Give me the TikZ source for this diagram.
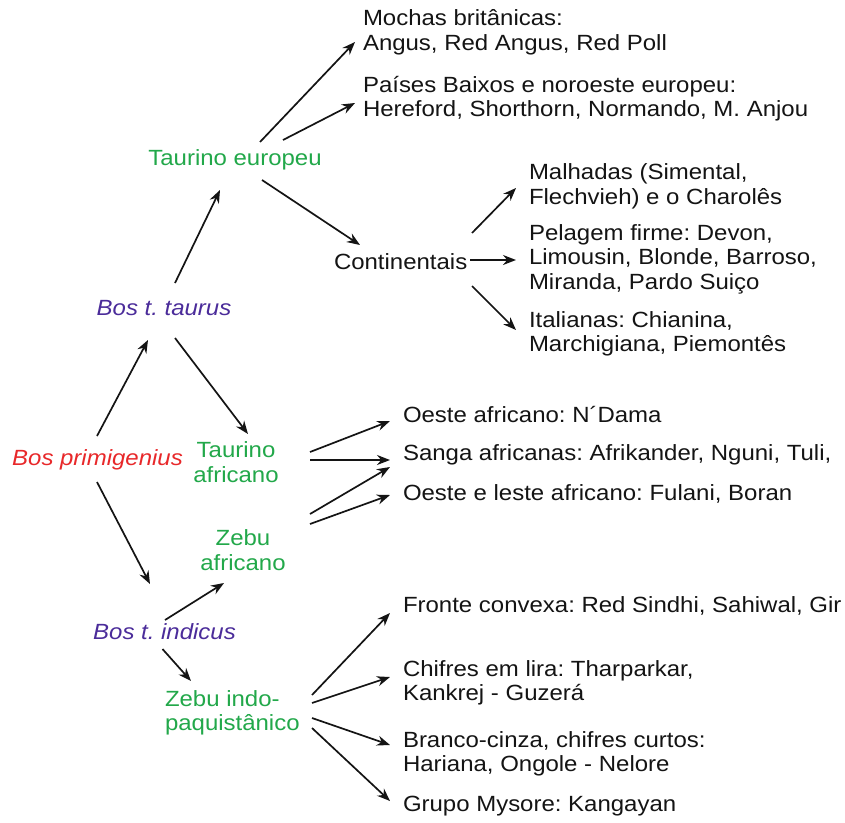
\documentclass[tikz,border=0pt]{standalone}
\usepackage{fontspec}
\setmainfont{Liberation Sans}[FakeStretch=1.09]
\usetikzlibrary{arrows.meta,calc}
\definecolor{cred}{RGB}{232,40,42}
\definecolor{cpurple}{RGB}{75,44,154}
\definecolor{cgreen}{RGB}{34,168,74}
\definecolor{cink}{RGB}{20,20,20}
\frenchspacing
\begin{document}
\begin{tikzpicture}[x=1pt,y=-1pt,
  every node/.style={font=\fontsize{22}{24.5}\selectfont, inner sep=0pt, outer sep=0pt, text=cink},
  sp/.style={text=cred, font=\fontsize{22}{24.5}\selectfont\itshape},
  sub/.style={text=cpurple, font=\fontsize{22}{24.5}\selectfont\itshape},
  grp/.style={text=cgreen, align=center},
  breed/.style={anchor=west, align=left},
  arr/.style={draw=cink, line width=1.7pt, -{Stealth[length=13pt,width=10pt]}}]
\useasboundingbox (0,0) rectangle (845,822);
\fill[white] (0,0) rectangle (845,822);
% main nodes
\node[sp] (bp) at (97.5,460) {Bos primigenius};
\node[sub] (tt) at (164,308) {Bos t. taurus};
\node[sub] (ti) at (164.5,632) {Bos t. indicus};
\node[grp] (te) at (235,160) {Taurino europeu};
\node[grp] (ta) at (236,462) {Taurino\\africano};
\node[grp] (za) at (243,550) {Zebu\\africano};
\node[grp, anchor=west, align=left] (zi) at (165,713) {Zebu indo-\\paquistânico};
\node[anchor=west] (co) at (334,262) {Continentais};
% breeds
\node[breed] (mo) at (363,32.5) {Mochas britânicas:\\Angus, Red Angus, Red Poll};
\node[breed] (pb) at (363,98.5) {Países Baixos e noroeste europeu:\\Hereford, Shorthorn, Normando, M. Anjou};
\node[breed] (ma) at (529,186.5) {Malhadas (Simental,\\Flechvieh) e o Charolês};
\node[breed] (pf) at (529,259) {Pelagem firme: Devon,\\Limousin, Blonde, Barroso,\\Miranda, Pardo Suiço};
\node[breed] (it) at (529,334) {Italianas: Chianina,\\Marchigiana, Piemontês};
\node[breed] (oa) at (403,415) {Oeste africano: N´Dama};
\node[breed] (sa) at (403,455) {Sanga africanas: Afrikander, Nguni, Tuli,};
\node[breed] (ol) at (403,494) {Oeste e leste africano: Fulani, Boran};
\node[breed] (fc) at (403,606) {Fronte convexa: Red Sindhi, Sahiwal, Gir};
\node[breed] (cl) at (403,683) {Chifres em lira: Tharparkar,\\Kankrej - Guzerá};
\node[breed] (bc) at (403,754) {Branco-cinza, chifres curtos:\\Hariana, Ongole - Nelore};
\node[breed] (gm) at (403,806) {Grupo Mysore: Kangayan};
% connectors
\draw[arr] ($(bp.center)+(-0.5,-24)$) -- ($(tt.center)+(-16,32)$);
\draw[arr] ($(tt.center)+(11,30)$) -- ($(ta.center)+(12,-28)$);
\draw[arr] ($(bp.center)+(-0.5,22)$) -- ($(ti.center)+(-14.5,-48)$);
\draw[arr] ($(tt.center)+(11,-25)$) -- ($(te.center)+(-15,30)$);
\draw[arr] ($(te.center)+(25,-18)$) -- ($(mo.west)+(-8,9.5)$);
\draw[arr] ($(te.center)+(48,-20)$) -- ($(pb.west)+(-8,4.5)$);
\draw[arr] ($(te.center)+(27,20)$) -- ($(co.west)+(26,-17)$);
\draw[arr] ($(co.west)+(138,-29)$) -- ($(ma.west)+(-13,1.5)$);
\draw[arr] ($(co.west)+(136,-2)$) -- ($(pf.west)+(-13,1)$);
\draw[arr] ($(co.west)+(138,24)$) -- ($(it.west)+(-13,-4)$);
\draw[arr] ($(ta.center)+(74,-10)$) -- ($(oa.west)+(-13,6)$);
\draw[arr] ($(ta.center)+(74,-2)$) -- ($(sa.west)+(-13,5)$);
\draw[arr] ($(za.center)+(67,-36)$) -- ($(sa.west)+(-13,12)$);
\draw[arr] ($(za.center)+(67,-26)$) -- ($(ol.west)+(-13,1)$);
\draw[arr] ($(ti.center)+(0.5,-12)$) -- ($(za.center)+(-19,33)$);
\draw[arr] ($(ti.center)+(-2,17)$) -- ($(zi.west)+(26,-32)$);
\draw[arr] ($(zi.west)+(147,-18)$) -- ($(fc.west)+(-13,7)$);
\draw[arr] ($(zi.west)+(147,-10)$) -- ($(cl.west)+(-13,-6)$);
\draw[arr] ($(zi.west)+(147,5)$) -- ($(bc.west)+(-13,-9)$);
\draw[arr] ($(zi.west)+(147,15)$) -- ($(gm.west)+(-13,-5)$);
\end{tikzpicture}
\end{document}
